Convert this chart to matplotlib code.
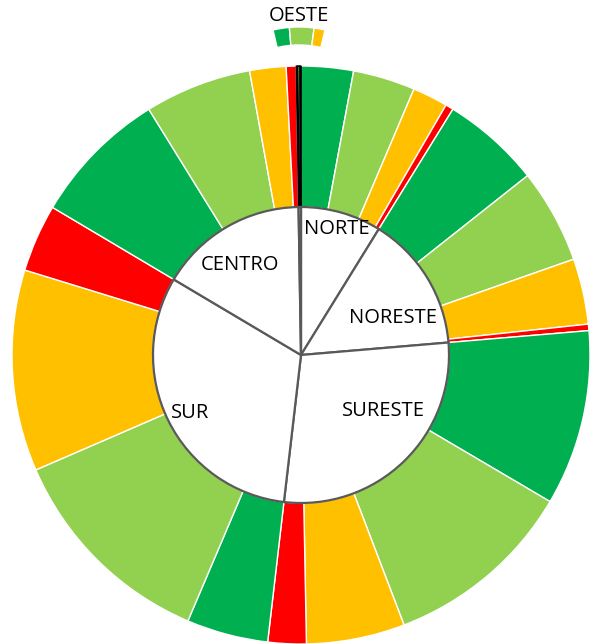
import matplotlib
matplotlib.use("Agg")
import matplotlib.pyplot as plt
from matplotlib.patches import Wedge
import numpy as np

plt.rcParams['font.family'] = ['Open Sans', 'DejaVu Sans']

# ---- data ----
regions = ["NORTE", "NORESTE", "SURESTE", "SUR", "CENTRO", "OESTE"]
levels = ["Alto", "Medio", "Bajo", "Crítico"]
level_colors = ["#00B050", "#92D050", "#FFC000", "#FF0000"]
norte = [10.5, 12.5, 7.1, 1.6]
noreste = [19.9, 19.0, 13.2, 1.3]
sureste = [35.3, 38.6, 19.8, 7.7]
sur = [16.4, 43.5, 40.5, 13.6]
centro = [27.5, 21.5, 7.3, 2.0]
oeste = [0.3, 0.45, 0.2, 0.0]
region_values = [norte, noreste, sureste, sur, centro, oeste]

W, H = 595, 644
fig = plt.figure(figsize=(W / 100, H / 100), dpi=100)
ax = fig.add_axes([0, 0, 1, 1])

cx, cy = 301, H - 355
R_out, R_in = 289, 148

outer_vals = [v for vals in region_values for v in vals]
outer_cols = [c for vals in region_values for c in level_colors]
inner_vals = [sum(v) for v in region_values]

wedges, _ = ax.pie(outer_vals, colors=outer_cols, radius=R_out, center=(cx, cy),
                   startangle=90, counterclock=False,
                   wedgeprops=dict(width=R_out - R_in, edgecolor="white", linewidth=1.0))
# OESTE tiny slices appear dark
for w in wedges[-4:]:
    w.set_edgecolor("black")
    w.set_linewidth(1.0)

ax.pie(inner_vals, colors=["white"] * len(inner_vals), radius=R_in, center=(cx, cy),
       startangle=90, counterclock=False,
       wedgeprops=dict(edgecolor="#595959", linewidth=1.6))

# labels
label_pos = {"NORTE": (337, 229), "NORESTE": (393, 318), "SURESTE": (383, 411),
             "SUR": (190, 413), "CENTRO": (240, 265)}
for name, (x, y) in label_pos.items():
    ax.text(x, H - y, name, ha="center", va="center", fontsize=14.5, color="black")

# OESTE callout
ax.text(299, H - 16, "OESTE", ha="center", va="center", fontsize=14.5, color="black")
ccx, ccy = 299, H - 140
cr, cw = 113, 18
span = 26.6
start = 90 + span / 2
tot = sum(oeste)
for v, col in zip(oeste, level_colors):
    if v <= 0:
        continue
    d = span * v / tot
    ax.add_patch(Wedge((ccx, ccy), cr, start - d, start, width=cw,
                       facecolor=col, edgecolor="white", linewidth=1.0))
    start -= d

ax.set_xlim(0, W)
ax.set_ylim(0, H)
ax.set_aspect("equal")
ax.axis("off")
fig.savefig("out.png", dpi=100, facecolor="white")
